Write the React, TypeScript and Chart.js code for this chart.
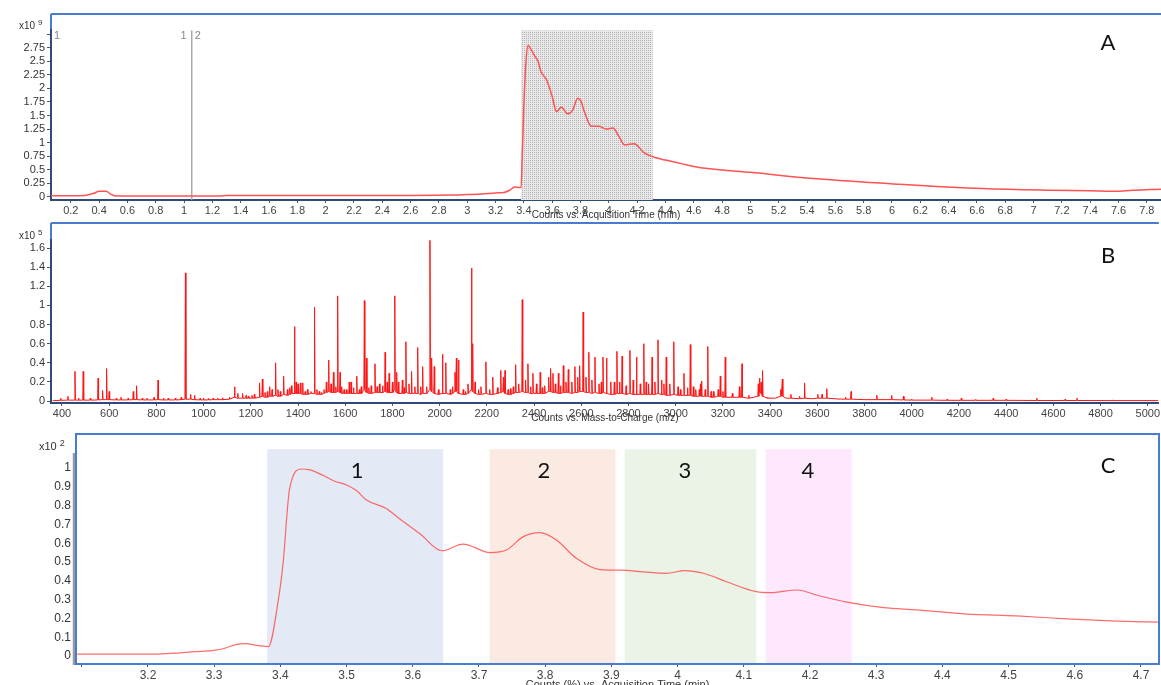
import React, { useEffect, useRef } from "react";
import { Chart, registerables } from "chart.js";

Chart.register(...registerables);

const W = 1161;
const H = 685;
const FONT = "'Liberation Sans', Arial, sans-serif";
const LABEL_FONT = "Lato, 'Open Sans', sans-serif";

// ---------- Panel A: total ion chromatogram (x10^9 counts) ----------
const ticTime = [
  0.06, 0.2, 0.3, 0.36, 0.4, 0.45, 0.48, 0.52, 0.8, 1.0, 1.25, 1.3, 2.0, 2.6, 2.9, 3.0, 3.1, 3.2,
  3.26, 3.3, 3.335, 3.37, 3.38, 3.39, 3.4, 3.415, 3.43, 3.45, 3.48, 3.5, 3.52, 3.56, 3.6, 3.63,
  3.665, 3.71, 3.745, 3.78, 3.8, 3.83, 3.877, 3.93, 3.98, 4.03, 4.07, 4.11, 4.18, 4.25, 4.3, 4.36,
  4.5, 4.64, 4.78, 5.0, 5.47, 6.05, 6.64, 7.11, 7.4, 7.58, 7.7, 7.9,
];
const ticCounts = [
  0.02, 0.02, 0.025, 0.06, 0.1, 0.1, 0.05, 0.015, 0.012, 0.012, 0.015, 0.025, 0.025, 0.025, 0.03, 0.04, 0.05, 0.07,
  0.08, 0.12, 0.18, 0.17, 0.17, 0.9, 1.7, 2.5, 2.79, 2.72, 2.58, 2.5, 2.31, 2.16, 1.85, 1.57,
  1.65, 1.53, 1.6, 1.82, 1.78, 1.55, 1.3, 1.3, 1.25, 1.27, 1.12, 0.96, 0.98, 0.81, 0.75, 0.7,
  0.62, 0.54, 0.5, 0.45, 0.33, 0.23, 0.15, 0.12, 0.11, 0.1, 0.12, 0.14,
];
const ticShade = [3.38, 4.31];
const ticMarkerTime = 1.054;

// ---------- Panel B: mass spectrum (x10^5 counts), [m/z, peak top, baseline at foot] ----------
const spectrumPeaks: [number, number, number][] = [
  [362, 0.006, 0.005], [395, 0.03, 0.008], [425, 0.05, 0.01], [455, 0.31, 0.01], [470, 0.03, 0.01],
  [490, 0.31, 0.01], [520, 0.03, 0.01], [553, 0.24, 0.012], [572, 0.11, 0.015], [589, 0.34, 0.015],
  [600, 0.1, 0.015], [630, 0.03, 0.012], [650, 0.04, 0.012], [680, 0.03, 0.012], [702, 0.1, 0.015],
  [716, 0.16, 0.015], [740, 0.03, 0.012], [760, 0.03, 0.012], [790, 0.04, 0.012], [807, 0.22, 0.015],
  [830, 0.03, 0.012], [850, 0.03, 0.012], [880, 0.03, 0.012], [905, 0.04, 0.015], [923, 1.34, 0.02],
  [945, 0.07, 0.02], [962, 0.06, 0.015], [985, 0.03, 0.012], [1000, 0.03, 0.012], [1020, 0.025, 0.012],
  [1040, 0.03, 0.015], [1060, 0.03, 0.015], [1080, 0.035, 0.015], [1110, 0.04, 0.02], [1131, 0.15, 0.04],
  [1145, 0.08, 0.03], [1165, 0.08, 0.03], [1180, 0.06, 0.03], [1190, 0.05, 0.03], [1205, 0.06, 0.03],
  [1215, 0.07, 0.03], [1237, 0.19, 0.04], [1249, 0.23, 0.05], [1260, 0.09, 0.04], [1270, 0.1, 0.04],
  [1280, 0.15, 0.05], [1290, 0.12, 0.05], [1305, 0.4, 0.06], [1315, 0.12, 0.05], [1325, 0.1, 0.05],
  [1339, 0.26, 0.07], [1355, 0.12, 0.06], [1365, 0.14, 0.07], [1372, 0.16, 0.08], [1385, 0.78, 0.08],
  [1392, 0.2, 0.08], [1400, 0.18, 0.08], [1410, 0.19, 0.08], [1420, 0.19, 0.07], [1430, 0.1, 0.07],
  [1440, 0.12, 0.07], [1455, 0.1, 0.08], [1470, 0.98, 0.08], [1480, 0.12, 0.07], [1490, 0.1, 0.07],
  [1500, 0.09, 0.07], [1510, 0.12, 0.08], [1520, 0.2, 0.09], [1530, 0.43, 0.1], [1540, 0.18, 0.09],
  [1550, 0.3, 0.09], [1560, 0.15, 0.09], [1568, 1.1, 0.1], [1578, 0.3, 0.09], [1585, 0.15, 0.08],
  [1595, 0.12, 0.08], [1605, 0.12, 0.08], [1617, 0.2, 0.08], [1625, 0.2, 0.08], [1635, 0.14, 0.08],
  [1649, 0.26, 0.08], [1660, 0.12, 0.08], [1668, 0.15, 0.08], [1681, 1.05, 0.12], [1690, 0.45, 0.09],
  [1700, 0.14, 0.08], [1710, 0.16, 0.08], [1726, 0.39, 0.09], [1735, 0.15, 0.09], [1745, 0.18, 0.09],
  [1758, 0.16, 0.09], [1769, 0.51, 0.1], [1778, 0.2, 0.09], [1786, 0.29, 0.09], [1800, 0.2, 0.09],
  [1810, 1.1, 0.12], [1818, 0.3, 0.09], [1825, 0.2, 0.08], [1842, 0.22, 0.08], [1850, 0.14, 0.08],
  [1857, 0.62, 0.09], [1870, 0.18, 0.08], [1881, 0.31, 0.08], [1895, 0.15, 0.08], [1907, 0.56, 0.08],
  [1920, 0.15, 0.07], [1928, 0.36, 0.08], [1945, 0.15, 0.08], [1959, 1.68, 0.12], [1966, 0.45, 0.1],
  [1977, 0.36, 0.08], [1995, 0.12, 0.07], [2012, 0.49, 0.08], [2026, 0.4, 0.08], [2045, 0.12, 0.07],
  [2055, 0.15, 0.08], [2065, 0.3, 0.1], [2071, 0.45, 0.1], [2080, 0.43, 0.08], [2100, 0.12, 0.07],
  [2110, 0.1, 0.07], [2120, 0.18, 0.08], [2135, 1.39, 0.12], [2140, 0.6, 0.1], [2150, 0.2, 0.08],
  [2165, 0.12, 0.07], [2175, 0.15, 0.07], [2196, 0.41, 0.08], [2212, 0.12, 0.07], [2225, 0.25, 0.07],
  [2245, 0.14, 0.08], [2259, 0.32, 0.09], [2270, 0.25, 0.1], [2277, 0.32, 0.08], [2290, 0.12, 0.07],
  [2300, 0.13, 0.07], [2312, 0.15, 0.08], [2322, 0.38, 0.09], [2335, 0.18, 0.09], [2350, 1.06, 0.1],
  [2364, 0.22, 0.09], [2374, 0.39, 0.09], [2385, 0.15, 0.08], [2395, 0.29, 0.08], [2410, 0.18, 0.08],
  [2426, 0.3, 0.08], [2435, 0.14, 0.08], [2445, 0.16, 0.08], [2462, 0.25, 0.1], [2470, 0.34, 0.1],
  [2480, 0.29, 0.09], [2490, 0.18, 0.09], [2503, 0.29, 0.08], [2512, 0.16, 0.08], [2524, 0.37, 0.09],
  [2535, 0.2, 0.09], [2545, 0.33, 0.09], [2560, 0.2, 0.08], [2573, 0.36, 0.09], [2585, 0.25, 0.09],
  [2593, 0.37, 0.1], [2608, 0.93, 0.1], [2620, 0.25, 0.09], [2632, 0.51, 0.09], [2645, 0.22, 0.08],
  [2658, 0.46, 0.09], [2675, 0.18, 0.08], [2685, 0.2, 0.08], [2692, 0.46, 0.09], [2707, 0.45, 0.08],
  [2725, 0.2, 0.07], [2740, 0.2, 0.07], [2751, 0.52, 0.08], [2762, 0.2, 0.08], [2773, 0.47, 0.08],
  [2790, 0.16, 0.07], [2806, 0.53, 0.08], [2820, 0.22, 0.07], [2834, 0.46, 0.07], [2850, 0.18, 0.07],
  [2865, 0.6, 0.07], [2875, 0.2, 0.07], [2885, 0.18, 0.07], [2900, 0.46, 0.07], [2912, 0.2, 0.07],
  [2925, 0.64, 0.08], [2940, 0.22, 0.07], [2950, 0.18, 0.07], [2960, 0.46, 0.06], [2975, 0.18, 0.06],
  [2992, 0.62, 0.07], [3010, 0.15, 0.06], [3020, 0.12, 0.06], [3035, 0.29, 0.06], [3050, 0.14, 0.06],
  [3062, 0.59, 0.06], [3075, 0.15, 0.05], [3085, 0.12, 0.05], [3100, 0.12, 0.05], [3105, 0.18, 0.06],
  [3110, 0.21, 0.05], [3125, 0.12, 0.05], [3136, 0.57, 0.05], [3150, 0.1, 0.04], [3160, 0.1, 0.04],
  [3180, 0.12, 0.05], [3189, 0.26, 0.05], [3200, 0.1, 0.04], [3210, 0.46, 0.04], [3240, 0.08, 0.04],
  [3270, 0.15, 0.04], [3281, 0.39, 0.04], [3310, 0.06, 0.03], [3350, 0.18, 0.05], [3355, 0.24, 0.1],
  [3362, 0.2, 0.08], [3368, 0.32, 0.05], [3390, 0.04, 0.03], [3420, 0.03, 0.03], [3445, 0.12, 0.05],
  [3452, 0.23, 0.05], [3470, 0.03, 0.03], [3488, 0.07, 0.03], [3525, 0.05, 0.025], [3546, 0.19, 0.03],
  [3580, 0.03, 0.025], [3602, 0.07, 0.03], [3620, 0.07, 0.03], [3640, 0.13, 0.03], [3700, 0.025, 0.02],
  [3720, 0.04, 0.02], [3743, 0.1, 0.02], [3800, 0.015, 0.015], [3852, 0.06, 0.015], [3915, 0.06, 0.015],
  [3965, 0.05, 0.012], [4000, 0.02, 0.01], [4085, 0.04, 0.01], [4150, 0.02, 0.008], [4210, 0.03, 0.008],
  [4270, 0.015, 0.008], [4345, 0.03, 0.008], [4400, 0.02, 0.008], [4530, 0.03, 0.006], [4650, 0.02, 0.006],
  [4700, 0.03, 0.006], [4850, 0.012, 0.005], [5045, 0.005, 0.005],
];
const peakHalfWidth = 2;

// ---------- Panel C: normalised chromatogram (x10^2 %) ----------
const relTime = [
  3.093, 3.21, 3.24, 3.27, 3.3, 3.315, 3.334, 3.349, 3.364, 3.382, 3.397, 3.404, 3.414, 3.432, 3.445,
  3.465, 3.482, 3.5, 3.515, 3.53, 3.56, 3.58, 3.611, 3.644, 3.676, 3.717, 3.742, 3.767, 3.792, 3.817,
  3.847, 3.883, 3.913, 3.948, 3.983, 4.011, 4.039, 4.074, 4.119, 4.14, 4.18, 4.215, 4.26, 4.311, 4.361,
  4.437, 4.512, 4.588, 4.663, 4.726,
];
const relCounts = [
  0.01, 0.01, 0.015, 0.023, 0.03, 0.04, 0.062, 0.066, 0.056, 0.05, 0.3, 0.49, 0.89, 0.995, 0.99,
  0.96, 0.93, 0.91, 0.88, 0.83, 0.785, 0.73, 0.65, 0.56, 0.595, 0.55, 0.565, 0.635, 0.656, 0.617,
  0.52, 0.46, 0.457, 0.448, 0.44, 0.454, 0.44, 0.395, 0.342, 0.337, 0.351, 0.319, 0.284, 0.257, 0.245,
  0.223, 0.213, 0.198, 0.186, 0.18,
];
const fracStart = [3.38, 3.716, 3.92, 4.133];
const fracEnd = [3.646, 3.906, 4.119, 4.263];
const fracColors = ["#e4eaf5", "#fbeae1", "#ebf3e7", "#fde8fd"];
const fracLabels = ["1", "2", "3", "4"];
const fracLabelTime = [3.516, 3.798, 4.011, 4.197];
const fracTop = 1.1;
const fracLabelLevel = 0.985;

const FRAME_BLUE = "#4a7bd2";
const NAVY = "#2f4b7d";

const fmt = (v: any) => String(parseFloat(Number(v).toFixed(3)));

function dotPattern(ctx: CanvasRenderingContext2D) {
  const c = document.createElement("canvas");
  c.width = 2;
  c.height = 2;
  const g = c.getContext("2d")!;
  g.fillStyle = "#e9e9e9";
  g.fillRect(0, 0, 2, 2);
  g.fillStyle = "#b2b2b2";
  g.fillRect(0, 0, 1, 1);
  return ctx.createPattern(c, "repeat")!;
}

function multiplier(ctx: CanvasRenderingContext2D, x: number, y: number, exp: string, size: number) {
  ctx.fillStyle = "#333";
  ctx.textBaseline = "alphabetic";
  ctx.textAlign = "left";
  ctx.font = `${size}px ${FONT}`;
  ctx.fillText("x10", x, y);
  const w = ctx.measureText("x10 ").width;
  ctx.font = `${size - 2}px ${FONT}`;
  ctx.fillText(exp, x + w, y - 4);
}

function bigLabel(ctx: CanvasRenderingContext2D, text: string, x: number, y: number) {
  ctx.fillStyle = "#111";
  ctx.font = `22px ${LABEL_FONT}`;
  ctx.textAlign = "center";
  ctx.textBaseline = "middle";
  ctx.fillText(text, x, y);
}

function axisTitle(ctx: CanvasRenderingContext2D, text: string, x: number, y: number, size: number) {
  ctx.fillStyle = "#333";
  ctx.font = `${size}px ${FONT}`;
  ctx.textAlign = "center";
  ctx.textBaseline = "middle";
  ctx.fillText(text, x, y);
}

function xAxis(min: number, max: number, step: number, height: number, size: number, hide?: (v: number) => boolean, borderColor = NAVY) {
  return {
    type: "linear",
    min,
    max,
    afterFit: (s: any) => {
      s.height = height;
    },
    ticks: {
      stepSize: step,
      includeBounds: false,
      autoSkip: false,
      maxRotation: 0,
      padding: 1,
      color: "#444",
      font: { family: FONT, size },
      callback: (v: any) => (hide && hide(Number(v)) ? "" : fmt(v)),
    },
    grid: { drawOnChartArea: false, tickLength: 3, color: "#555", lineWidth: 1 },
    border: { display: true, color: borderColor, width: 2 },
  };
}

function yAxis(min: number, max: number, step: number, width: number, size: number, hide?: (v: number) => boolean, border: any = { display: true, color: NAVY, width: 2 }) {
  return {
    type: "linear",
    min,
    max,
    afterFit: (s: any) => {
      s.width = width;
    },
    ticks: {
      stepSize: step,
      includeBounds: false,
      autoSkip: false,
      padding: 2,
      color: "#333",
      font: { family: FONT, size },
      callback: (v: any) => (hide && hide(Number(v)) ? "" : fmt(v)),
    },
    grid: { drawOnChartArea: false, tickLength: 4, color: "#555", lineWidth: 1 },
    border,
  };
}

const common = {
  responsive: false,
  animation: false,
  events: [],
  plugins: { legend: { display: false }, tooltip: { enabled: false } },
};

function configA(): any {
  const plugin = {
    id: "panelA",
    beforeDraw(chart: any) {
      const { ctx, chartArea: ca } = chart;
      ctx.save();
      ctx.strokeStyle = FRAME_BLUE;
      ctx.lineWidth = 2;
      ctx.beginPath();
      ctx.moveTo(ca.left, 14);
      ctx.lineTo(ca.right, 14);
      ctx.moveTo(ca.left, 14);
      ctx.lineTo(ca.left, ca.bottom);
      ctx.stroke();
      ctx.restore();
    },
    beforeDatasetsDraw(chart: any) {
      const { ctx, chartArea: ca, scales } = chart;
      const x = scales.x;
      ctx.save();
      const x0 = x.getPixelForValue(ticShade[0]);
      const x1 = x.getPixelForValue(ticShade[1]);
      ctx.fillStyle = dotPattern(ctx);
      ctx.fillRect(x0, ca.top, x1 - x0, ca.bottom - ca.top);
      const xm = x.getPixelForValue(ticMarkerTime);
      ctx.strokeStyle = "#a8a8a8";
      ctx.lineWidth = 1.5;
      ctx.beginPath();
      ctx.moveTo(xm, ca.top);
      ctx.lineTo(xm, ca.bottom);
      ctx.stroke();
      ctx.fillStyle = "#888";
      ctx.font = `11px ${FONT}`;
      ctx.textBaseline = "middle";
      ctx.textAlign = "right";
      ctx.fillText("1", xm - 5, ca.top + 6);
      ctx.textAlign = "left";
      ctx.fillText("2", xm + 3, ca.top + 6);
      ctx.fillText("1", ca.left + 3, ca.top + 6);
      ctx.restore();
    },
    afterDraw(chart: any) {
      const { ctx, chartArea: ca } = chart;
      ctx.save();
      multiplier(ctx, 19, 29, "9", 10);
      bigLabel(ctx, "A", 1108, 43);
      axisTitle(ctx, "Counts vs. Acquisition Time (min)", (ca.left + ca.right) / 2, ca.bottom + 15, 10);
      ctx.restore();
    },
  };
  return {
    type: "line",
    data: {
      datasets: [
        {
          data: ticTime.map((t, i) => ({ x: t, y: ticCounts[i] })),
          borderColor: "#ff5252",
          borderWidth: 1.5,
          pointRadius: 0,
          cubicInterpolationMode: "monotone",
          fill: false,
        },
      ],
    },
    options: {
      ...common,
      layout: { padding: { left: 0, right: 0, top: 30.4, bottom: H - 200 - 22 } },
      scales: {
        x: xAxis(0.06, 7.9, 0.2, 22, 11),
        y: yAxis(-0.06, 3.07, 0.25, 51, 11, (v) => v > 2.9),
      },
    },
    plugins: [plugin],
  };
}

function configB(): any {
  const plugin = {
    id: "panelB",
    beforeDraw(chart: any) {
      const { ctx, chartArea: ca } = chart;
      ctx.save();
      ctx.strokeStyle = FRAME_BLUE;
      ctx.lineWidth = 2;
      ctx.beginPath();
      ctx.moveTo(ca.left, 223);
      ctx.lineTo(ca.right, 223);
      ctx.moveTo(ca.left, 223);
      ctx.lineTo(ca.left, ca.bottom);
      ctx.stroke();
      ctx.restore();
    },
    afterDraw(chart: any) {
      const { ctx, chartArea: ca } = chart;
      ctx.save();
      multiplier(ctx, 19, 239, "5", 10);
      bigLabel(ctx, "B", 1108, 256);
      axisTitle(ctx, "Counts vs. Mass-to-Charge (m/z)", (ca.left + ca.right) / 2, ca.bottom + 15, 10);
      ctx.restore();
    },
  };
  const points: { x: number; y: number }[] = [];
  spectrumPeaks.forEach(([mz, top, foot]) => {
    points.push({ x: mz - peakHalfWidth, y: foot });
    points.push({ x: mz, y: top });
    points.push({ x: mz + peakHalfWidth, y: foot });
  });
  return {
    type: "line",
    data: {
      datasets: [
        {
          data: points,
          borderColor: "#ff1414",
          borderWidth: 1,
          pointRadius: 0,
          tension: 0,
          fill: false,
        },
      ],
    },
    options: {
      ...common,
      layout: { padding: { left: 0, right: 0, top: 240, bottom: H - 403 - 20 } },
      scales: {
        x: xAxis(353.5, 5047, 200, 20, 11),
        y: yAxis(-0.02, 1.684, 0.2, 51, 11),
      },
    },
    plugins: [plugin],
  };
}

function configC(): any {
  const plugin = {
    id: "panelC",
    beforeDatasetsDraw(chart: any) {
      const { ctx, chartArea: ca, scales } = chart;
      const x = scales.x;
      const y = scales.y;
      ctx.save();
      const top = y.getPixelForValue(fracTop);
      fracStart.forEach((s, i) => {
        const x0 = x.getPixelForValue(s);
        const x1 = x.getPixelForValue(fracEnd[i]);
        ctx.fillStyle = fracColors[i];
        ctx.fillRect(x0, top, x1 - x0, ca.bottom - top);
      });
      ctx.restore();
    },
    afterDraw(chart: any) {
      const { ctx, chartArea: ca, scales } = chart;
      const x = scales.x;
      const y = scales.y;
      ctx.save();
      ctx.strokeStyle = "#9a9a9a";
      ctx.lineWidth = 2.5;
      ctx.beginPath();
      ctx.moveTo(ca.left - 3, ca.top);
      ctx.lineTo(ca.left - 3, ca.bottom + 1);
      ctx.stroke();
      ctx.strokeStyle = FRAME_BLUE;
      ctx.lineWidth = 2;
      ctx.strokeRect(ca.left - 1, 434, ca.right - ca.left + 2, ca.bottom - 434);
      fracLabels.forEach((t, i) => {
        bigLabel(ctx, t, x.getPixelForValue(fracLabelTime[i]), y.getPixelForValue(fracLabelLevel));
      });
      bigLabel(ctx, "C", 1108, 466);
      multiplier(ctx, 39, 450, "2", 11);
      axisTitle(ctx, "Counts (%) vs. Acquisition Time (min)", (ca.left + ca.right) / 2, ca.bottom + 21, 11);
      ctx.restore();
    },
  };
  return {
    type: "line",
    data: {
      datasets: [
        {
          data: relTime.map((t, i) => ({ x: t, y: relCounts[i] })),
          borderColor: "rgba(255, 70, 70, 0.8)",
          borderWidth: 1.2,
          pointRadius: 0,
          cubicInterpolationMode: "monotone",
          fill: false,
        },
      ],
    },
    options: {
      ...common,
      layout: { padding: { left: 0, right: 3, top: 453, bottom: 0 } },
      scales: {
        x: xAxis(3.0928, 4.7257, 0.1, 21, 12, (v) => v < 3.15, "#3f70cc"),
        y: yAxis(-0.0426, 1.08, 0.1, 77, 12, undefined, { display: false }),
      },
    },
    plugins: [plugin],
  };
}

export default function App() {
  const refA = useRef<HTMLCanvasElement>(null);
  const refB = useRef<HTMLCanvasElement>(null);
  const refC = useRef<HTMLCanvasElement>(null);

  useEffect(() => {
    const charts = [
      new Chart(refC.current!, configC()),
      new Chart(refB.current!, configB()),
      new Chart(refA.current!, configA()),
    ];
    return () => charts.forEach((c) => c.destroy());
  }, []);

  const cs: React.CSSProperties = { position: "absolute", left: 0, top: 0, width: W, height: H };
  return (
    <div style={{ position: "absolute", left: 0, top: 0, width: W, height: H, overflow: "hidden", background: "#fff" }}>
      <canvas ref={refC} width={W} height={H} style={cs} />
      <canvas ref={refB} width={W} height={H} style={cs} />
      <canvas ref={refA} width={W} height={H} style={cs} />
    </div>
  );
}
